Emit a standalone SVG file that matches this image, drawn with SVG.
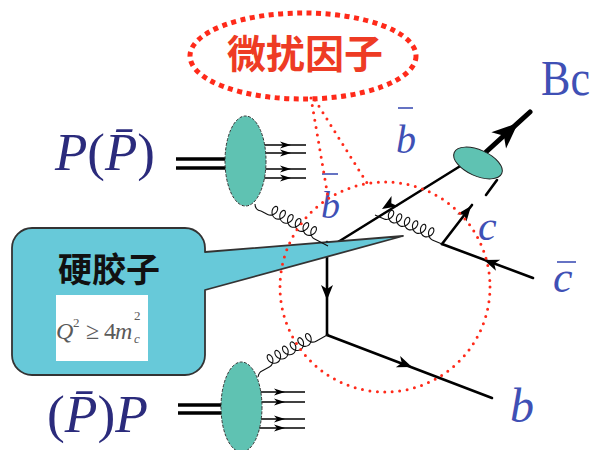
<svg xmlns="http://www.w3.org/2000/svg" xmlns:xlink="http://www.w3.org/1999/xlink" width="595" height="450" viewBox="0 0 595 450">
  <style>
    .quark { stroke: #000; stroke-width: 2.6; fill: none; stroke-linecap: round; }
    .beam { stroke: #000; stroke-width: 3.5; fill: none; }
    .parton { stroke: #000; stroke-width: 1.4; fill: none; }
    .gluon { stroke: #111; stroke-width: 1.1; fill: none; }
    .coil { stroke-width: 0.9; }
    .blob { fill: #5fc2b2; stroke: #333; stroke-width: 1; stroke-dasharray: 3 1.5; }
    .dots { stroke: #ff2a1a; stroke-width: 3; fill: none; stroke-linecap: round; stroke-dasharray: 0 7.5; }
    .math { font-family: "Liberation Serif", "DejaVu Serif", serif; }
    .lbl { fill: #3f50b5; font-style: italic; }
    .bar { stroke: #3f50b5; stroke-width: 1.6; }
    .beamlbl { fill: #2b2b7c; font-size: 52px; }
    .cjk { font-family: "Noto Sans CJK SC", "Noto Sans", sans-serif; font-weight: 700; }
  </style>
  <defs>
    <path id="ah" d="M0,0 L-15,-6 L-11,0 L-15,6 Z" fill="#000"/>
    <path id="ahs" d="M0,0 L-11,-3.5 L-8,0 L-11,3.5 Z" fill="#000"/>
    <path id="ahb" d="M0,0 L-26,-11 L-19,0 L-26,11 Z" fill="#000"/>
  </defs>

  <rect width="595" height="450" fill="#fff"/>

  <!-- perturbative factor label -->
  <g id="perturbative">
    <ellipse cx="303" cy="56" rx="113" ry="43" fill="none" stroke="#ff2a1a" stroke-width="5" stroke-dasharray="5 4.5"/>
    <text class="cjk" x="305" y="68" font-size="39" fill="#ee3b24" text-anchor="middle">微扰因子</text>
  </g>

  <!-- beam labels -->
  <g id="beam-top-label">
    <text class="math beamlbl" x="55" y="170" textLength="100" lengthAdjust="spacingAndGlyphs"><tspan font-style="italic">P</tspan>(<tspan font-style="italic">P̄</tspan>)</text>
  </g>
  <g id="beam-bottom-label">
    <text class="math beamlbl" x="47" y="432" textLength="101" lengthAdjust="spacingAndGlyphs">(<tspan font-style="italic">P̄</tspan>)<tspan font-style="italic">P</tspan></text>
  </g>

  <!-- connectors: beams, partons, quark lines -->
  <g id="connectors">
    <line class="beam" x1="176" y1="159" x2="228" y2="159"/>
    <line class="beam" x1="176" y1="168" x2="228" y2="168"/>
    <line class="beam" x1="178" y1="405" x2="224" y2="405"/>
    <line class="beam" x1="178" y1="413" x2="224" y2="413"/>

    <line class="parton" x1="262" y1="145" x2="306" y2="145"/>
    <line class="parton" x1="262" y1="153" x2="306" y2="153"/>
    <line class="parton" x1="262" y1="169" x2="306" y2="169"/>
    <line class="parton" x1="262" y1="178" x2="306" y2="178"/>
    <use href="#ahs" x="291" y="145"/>
    <use href="#ahs" x="291" y="153"/>
    <use href="#ahs" x="291" y="169"/>
    <use href="#ahs" x="291" y="178"/>

    <line class="parton" x1="258" y1="392" x2="305" y2="392"/>
    <line class="parton" x1="258" y1="402" x2="305" y2="402"/>
    <line class="parton" x1="258" y1="419" x2="305" y2="419"/>
    <line class="parton" x1="258" y1="428" x2="305" y2="428"/>
    <use href="#ahs" x="285" y="392"/>
    <use href="#ahs" x="285" y="402"/>
    <use href="#ahs" x="285" y="419"/>
    <use href="#ahs" x="285" y="428"/>

    <!-- anti-b line -->
    <line class="quark" x1="338" y1="242" x2="470" y2="160"/>
    <use href="#ah" transform="translate(382,209) rotate(148)"/>
    <!-- t-channel b line -->
    <line class="quark" x1="327" y1="242" x2="327" y2="335"/>
    <use href="#ah" transform="translate(327,300) rotate(90)"/>
    <!-- outgoing b -->
    <line class="quark" x1="327" y1="335" x2="492" y2="398"/>
    <use href="#ah" transform="translate(412,367) rotate(21)"/>
    <!-- c quark -->
    <line class="quark" x1="442" y1="244" x2="472" y2="205"/>
    <use href="#ah" transform="translate(471,206) rotate(-52)"/>
    <line class="quark" x1="486" y1="195" x2="497" y2="180"/>
    <!-- anti-c -->
    <line class="quark" x1="442" y1="244" x2="533" y2="278"/>
    <use href="#ah" transform="translate(484,260) rotate(200.5)"/>
    <!-- Bc outgoing -->
    <line x1="486" y1="152" x2="530" y2="112" stroke="#000" stroke-width="5" stroke-linecap="round"/>
    <use href="#ahb" transform="translate(518,123) rotate(-42)"/>
  </g>

  <!-- proton blobs -->
  <g id="blob-top"><ellipse class="blob" cx="245.5" cy="161" rx="20.5" ry="45"/></g>
  <g id="blob-bottom"><ellipse class="blob" cx="241.5" cy="407" rx="20.5" ry="45"/></g>
  <g id="bc-meson"><ellipse class="blob" cx="478" cy="163" rx="26" ry="13" transform="rotate(24 478 163)" style="stroke-dasharray:none;stroke:#222"/></g>

  <!-- hard gluon callout -->
  <g id="hard-gluon">
    <path d="M32,228 H185 A20,20 0 0 1 205,248 V252 L403,236 L205,290 V355 A20,20 0 0 1 185,375 H32 A20,20 0 0 1 12,355 V248 A20,20 0 0 1 32,228 Z" fill="#67c9d9" stroke="#333" stroke-width="1.8" stroke-linejoin="round"/>
    <text class="cjk" x="58" y="282" font-size="34" fill="#111">硬胶子</text>
    <rect x="56" y="295" width="92" height="66" fill="#fff"/>
    <g class="math" fill="#5a5a5a" font-size="24">
      <text x="56" y="339" font-style="italic">Q</text>
      <text x="73" y="327" font-size="13">2</text>
      <text x="86" y="339">≥</text>
      <text x="104" y="339">4</text>
      <text x="115" y="339" font-style="italic">m</text>
      <text x="134" y="320" font-size="13">2</text>
      <text x="134" y="343" font-size="13" font-style="italic">c</text>
    </g>
  </g>

  <!-- gluons: each coil is a run of loops along the local x axis -->
  <g id="gluons" class="gluon">
    <path d="M255,204 q0,6 6,7"/>
    <path class="coil" transform="translate(261,211) rotate(27.6) scale(1.25)" d="M0,0 l6,0 c2.42,0 4.67,-2.14 5.25,-4.5 c0.58,-2.36 -0.5,-4.5 -1.75,-4.5 c-1.25,0 -2.33,2.14 -1.75,4.5 c0.58,2.36 2.83,4.5 5.25,4.5 c2.42,0 4.67,-2.14 5.25,-4.5 c0.58,-2.36 -0.5,-4.5 -1.75,-4.5 c-1.25,0 -2.33,2.14 -1.75,4.5 c0.58,2.36 2.83,4.5 5.25,4.5 c2.42,0 4.67,-2.14 5.25,-4.5 c0.58,-2.36 -0.5,-4.5 -1.75,-4.5 c-1.25,0 -2.33,2.14 -1.75,4.5 c0.58,2.36 2.83,4.5 5.25,4.5 c2.42,0 4.67,-2.14 5.25,-4.5 c0.58,-2.36 -0.5,-4.5 -1.75,-4.5 c-1.25,0 -2.33,2.14 -1.75,4.5 c0.58,2.36 2.83,4.5 5.25,4.5 c2.42,0 4.67,-2.14 5.25,-4.5 c0.58,-2.36 -0.5,-4.5 -1.75,-4.5 c-1.25,0 -2.33,2.14 -1.75,4.5 c0.58,2.36 2.83,4.5 5.25,4.5 c2.42,0 4.67,-2.14 5.25,-4.5 c0.58,-2.36 -0.5,-4.5 -1.75,-4.5 c-1.25,0 -2.33,2.14 -1.75,4.5 c0.58,2.36 2.83,4.5 5.25,4.5 l12.5,0"/>
    <path d="M258,377 q1,-5 4,-6"/>
    <path class="coil" transform="translate(262,371) rotate(-28.9) scale(1.25)" d="M0,0 l7,0 c2.42,0 4.67,-2.14 5.25,-4.5 c0.58,-2.36 -0.5,-4.5 -1.75,-4.5 c-1.25,0 -2.33,2.14 -1.75,4.5 c0.58,2.36 2.83,4.5 5.25,4.5 c2.42,0 4.67,-2.14 5.25,-4.5 c0.58,-2.36 -0.5,-4.5 -1.75,-4.5 c-1.25,0 -2.33,2.14 -1.75,4.5 c0.58,2.36 2.83,4.5 5.25,4.5 c2.42,0 4.67,-2.14 5.25,-4.5 c0.58,-2.36 -0.5,-4.5 -1.75,-4.5 c-1.25,0 -2.33,2.14 -1.75,4.5 c0.58,2.36 2.83,4.5 5.25,4.5 c2.42,0 4.67,-2.14 5.25,-4.5 c0.58,-2.36 -0.5,-4.5 -1.75,-4.5 c-1.25,0 -2.33,2.14 -1.75,4.5 c0.58,2.36 2.83,4.5 5.25,4.5 c2.42,0 4.67,-2.14 5.25,-4.5 c0.58,-2.36 -0.5,-4.5 -1.75,-4.5 c-1.25,0 -2.33,2.14 -1.75,4.5 c0.58,2.36 2.83,4.5 5.25,4.5 c2.42,0 4.67,-2.14 5.25,-4.5 c0.58,-2.36 -0.5,-4.5 -1.75,-4.5 c-1.25,0 -2.33,2.14 -1.75,4.5 c0.58,2.36 2.83,4.5 5.25,4.5 l12.2,0"/>
    <path class="coil" transform="translate(375,215) rotate(23.5) scale(1.25)" d="M0,0 l8,0 c2.42,0 4.67,-2.14 5.25,-4.5 c0.58,-2.36 -0.5,-4.5 -1.75,-4.5 c-1.25,0 -2.33,2.14 -1.75,4.5 c0.58,2.36 2.83,4.5 5.25,4.5 c2.42,0 4.67,-2.14 5.25,-4.5 c0.58,-2.36 -0.5,-4.5 -1.75,-4.5 c-1.25,0 -2.33,2.14 -1.75,4.5 c0.58,2.36 2.83,4.5 5.25,4.5 c2.42,0 4.67,-2.14 5.25,-4.5 c0.58,-2.36 -0.5,-4.5 -1.75,-4.5 c-1.25,0 -2.33,2.14 -1.75,4.5 c0.58,2.36 2.83,4.5 5.25,4.5 c2.42,0 4.67,-2.14 5.25,-4.5 c0.58,-2.36 -0.5,-4.5 -1.75,-4.5 c-1.25,0 -2.33,2.14 -1.75,4.5 c0.58,2.36 2.83,4.5 5.25,4.5 c2.42,0 4.67,-2.14 5.25,-4.5 c0.58,-2.36 -0.5,-4.5 -1.75,-4.5 c-1.25,0 -2.33,2.14 -1.75,4.5 c0.58,2.36 2.83,4.5 5.25,4.5 c2.42,0 4.67,-2.14 5.25,-4.5 c0.58,-2.36 -0.5,-4.5 -1.75,-4.5 c-1.25,0 -2.33,2.14 -1.75,4.5 c0.58,2.36 2.83,4.5 5.25,4.5 l8.4,0"/>
  </g>

  <!-- quark labels -->
  <g id="labels" class="math">
    <text x="541" y="95" font-size="50" fill="#3f50b5" textLength="49" lengthAdjust="spacingAndGlyphs">Bc</text>
    <text class="lbl" x="396" y="153" font-size="40">b</text>
    <line class="bar" x1="398" y1="108" x2="413" y2="108"/>
    <text class="lbl" x="321" y="218" font-size="38">b</text>
    <line class="bar" x1="322" y1="174" x2="338" y2="174"/>
    <text class="lbl" x="478" y="240" font-size="42">c</text>
    <text class="lbl" x="553" y="292" font-size="44">c</text>
    <line class="bar" x1="557" y1="262" x2="576" y2="262"/>
    <text class="lbl" x="510" y="422" font-size="48">b</text>
  </g>

  <!-- perturbative region markers -->
  <g id="region">
    <circle class="dots" cx="385" cy="287" r="105"/>
    <path class="dots" d="M311,98 L328,197"/>
    <path class="dots" d="M315,100 L367,183"/>
  </g>
</svg>
